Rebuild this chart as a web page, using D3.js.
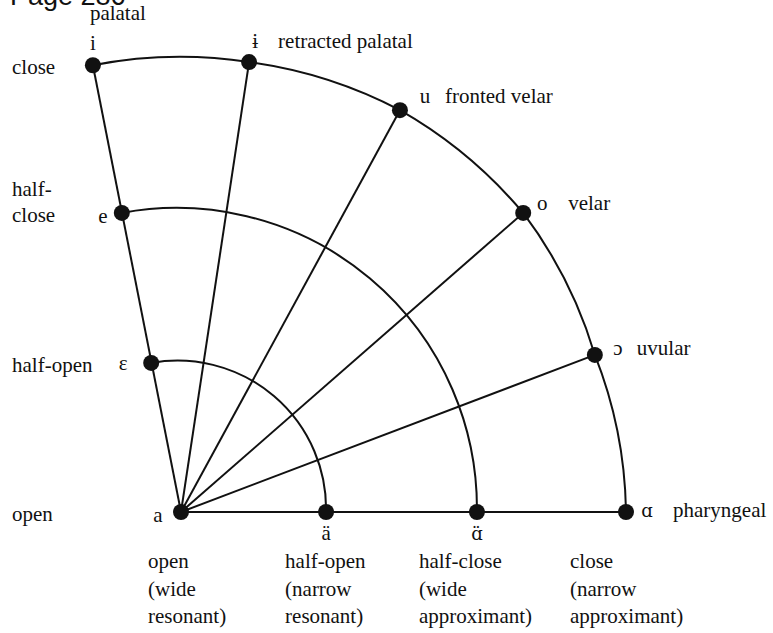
<!DOCTYPE html>
<html>
<head>
<meta charset="utf-8">
<script src="https://cdn.jsdelivr.net/npm/d3@7"></script>
<style>
  body { margin: 0; background: #fff; }
  text { font-family: "Liberation Serif", "DejaVu Serif", serif; fill: #111; }
</style>
</head>
<body>
<div id="chart"></div>
<script>
// vowel points, in units of the outer radius, measured from "a"
const vowelNames = ["a", "ä", "ɑ̈", "ɑ", "ɛ", "e", "i", "ɨ", "u", "o", "ɔ"];
const vowelX = [0, 0.326, 0.665, 1.0, -0.067, -0.133, -0.198, 0.153, 0.492, 0.769, 0.930];
const vowelY = [0, 0, 0, 0, 0.335, 0.672, 1.004, 1.011, 0.903, 0.672, 0.353];

const rayEnds = ["i", "ɨ", "u", "o", "ɔ", "ɑ"];
const arcRuns = [["i", "ɨ", "u", "o", "ɔ", "ɑ"], ["e", "ɑ̈"], ["ɛ", "ä"]];

const placeVowels = ["i", "ɨ", "u", "o", "ɔ", "ɑ"];
const placeNames = ["palatal", "retracted palatal", "fronted velar", "velar", "uvular", "pharyngeal"];

const heightVowels = ["i", "e", "ɛ", "a"];
const heightNames = [["close"], ["half-", "close"], ["half-open"], ["open"]];

const apertureVowels = ["a", "ä", "ɑ̈", "ɑ"];
const apertureNames = [
  ["open", "(wide", "resonant)"],
  ["half-open", "(narrow", "resonant)"],
  ["half-close", "(wide", "approximant)"],
  ["close", "(narrow", "approximant)"]
];

const width = 773, height = 633;
const fontSize = 21;

const svg = d3.select("#chart").append("svg")
  .attr("width", width)
  .attr("height", height);

// same pixels per unit on both axes so the arcs stay round
const x = d3.scaleLinear().domain([0, 1]).range([181, 626]);
const y = d3.scaleLinear().domain([0, 1]).range([512, 67]);

const pts = new Map(vowelNames.map((n, i) => [n, { name: n, x: x(vowelX[i]), y: y(vowelY[i]) }]));
const origin = pts.get("a");
const dist = (p) => Math.hypot(p.x - origin.x, p.y - origin.y);

// page header, cut off at the top of the scan
svg.append("text")
  .attr("x", 10)
  .attr("y", 5)
  .style("font-family", "'Liberation Sans', Arial, sans-serif")
  .attr("font-size", 27)
  .text("Page 286");

const lines = svg.append("g")
  .attr("fill", "none")
  .attr("stroke", "#111")
  .attr("stroke-width", 2);

// rays from a
lines.selectAll("line.ray")
  .data(rayEnds)
  .join("line")
  .attr("class", "ray")
  .attr("x1", origin.x)
  .attr("y1", origin.y)
  .attr("x2", (d) => pts.get(d).x)
  .attr("y2", (d) => pts.get(d).y);

// arcs, drawn piecewise between neighbouring dots
function arcPath(names) {
  let s = "";
  names.forEach((n, k) => {
    const q = pts.get(n);
    if (k === 0) { s += `M${q.x},${q.y}`; return; }
    const p = pts.get(names[k - 1]);
    const r = (dist(p) + dist(q)) / 2;
    s += `A${r},${r} 0 0 1 ${q.x},${q.y}`;
  });
  return s;
}

lines.selectAll("path.arc")
  .data(arcRuns)
  .join("path")
  .attr("class", "arc")
  .attr("d", arcPath);

// dots
svg.append("g").selectAll("circle")
  .data(vowelNames.map((n) => pts.get(n)))
  .join("circle")
  .attr("cx", (d) => d.x)
  .attr("cy", (d) => d.y)
  .attr("r", 8)
  .attr("fill", "#111");

// vowel symbols
const symbolOffset = {
  "a": [-23, 10], "ä": [0, 28], "ɑ̈": [0, 28], "ɑ": [21, 5],
  "ɛ": [-28, 7], "e": [-19, 10], "i": [0, -15], "ɨ": [6, -14],
  "u": [25, -7], "o": [19, -3], "ɔ": [23, 0]
};
// alpha with a combining diaeresis sits better in DejaVu
const ipaFont = new Set(["ɑ̈", "ɑ"]);

svg.append("g").selectAll("text")
  .data(vowelNames.map((n) => pts.get(n)))
  .join("text")
  .attr("x", (d) => d.x + symbolOffset[d.name][0])
  .attr("y", (d) => d.y + symbolOffset[d.name][1])
  .attr("text-anchor", "middle")
  .attr("font-size", (d) => ipaFont.has(d.name) ? 18 : fontSize)
  .style("font-family", (d) => ipaFont.has(d.name) ? "'DejaVu Serif', serif" : null)
  .text((d) => d.name);

// place of articulation names
const placeOffset = [[-3, -45], [29, -14], [45, -7], [45, -3], [42, 0], [47, 5]];

svg.append("g").selectAll("text")
  .data(placeNames)
  .join("text")
  .attr("x", (d, i) => pts.get(placeVowels[i]).x + placeOffset[i][0])
  .attr("y", (d, i) => pts.get(placeVowels[i]).y + placeOffset[i][1])
  .attr("font-size", fontSize)
  .text((d) => d);

// height names on the left
const lineGap = 26;
const heightG = svg.append("g");
heightNames.forEach((rows, i) => {
  const base = pts.get(heightVowels[i]).y + 9;
  rows.forEach((t, j) => {
    heightG.append("text")
      .attr("x", 12)
      .attr("y", base - (rows.length - 1 - j) * lineGap)
      .attr("font-size", fontSize)
      .text(t);
  });
});

// aperture names under the base line
const apertureShift = [-33, -41, -58, -56];
const apertureG = svg.append("g");
apertureNames.forEach((rows, i) => {
  const p = pts.get(apertureVowels[i]);
  rows.forEach((t, j) => {
    apertureG.append("text")
      .attr("x", p.x + apertureShift[i])
      .attr("y", p.y + 56 + j * 27.5)
      .attr("font-size", fontSize)
      .text(t);
  });
});
</script>
</body>
</html>
